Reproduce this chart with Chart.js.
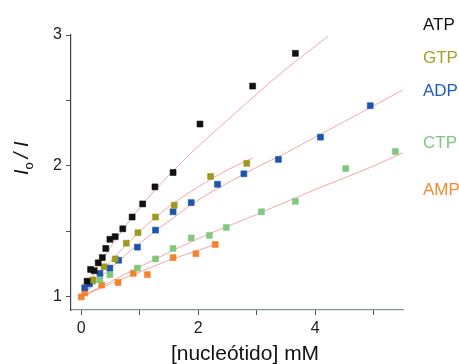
<!DOCTYPE html>
<html>
<head>
<meta charset="utf-8">
<script src="https://cdn.jsdelivr.net/npm/chart.js@4.4.1/dist/chart.umd.min.js"></script>
<style>
  html, body { margin: 0; padding: 0; background: #fff; }
  #wrap { width: 459px; height: 364px; }
</style>
</head>
<body>
<div id="wrap"><canvas id="chart" width="459" height="364"></canvas></div>
<script>
// measured points (I0/I vs [nucleotide] mM)
const atpX = [0.10, 0.16, 0.22, 0.29, 0.36, 0.42, 0.49, 0.58, 0.71, 0.87, 1.05, 1.26, 1.57, 2.03, 2.93, 3.66];
const atpY = [1.12, 1.21, 1.20, 1.26, 1.30, 1.37, 1.44, 1.46, 1.52, 1.61, 1.71, 1.84, 1.95, 2.32, 2.61, 2.86];
const gtpX = [0.20, 0.39, 0.58, 0.77, 0.97, 1.27, 1.59, 2.21, 2.83];
const gtpY = [1.13, 1.23, 1.29, 1.41, 1.49, 1.61, 1.70, 1.92, 2.02];
const adpX = [0.06, 0.14, 0.32, 0.49, 0.64, 0.96, 1.27, 1.57, 1.88, 2.33, 2.78, 3.37, 4.09, 4.94];
const adpY = [1.07, 1.10, 1.18, 1.22, 1.28, 1.38, 1.51, 1.65, 1.72, 1.86, 1.94, 2.05, 2.22, 2.46];
const ctpX = [0.20, 0.32, 0.49, 0.96, 1.27, 1.57, 1.88, 2.19, 2.48, 3.08, 3.66, 4.52, 5.37];
const ctpY = [1.12, 1.13, 1.17, 1.22, 1.29, 1.37, 1.45, 1.47, 1.53, 1.65, 1.73, 1.98, 2.11];
const ampX = [0.00, 0.06, 0.35, 0.63, 0.89, 1.13, 1.57, 1.96, 2.29];
const ampY = [1.00, 1.03, 1.09, 1.11, 1.18, 1.17, 1.30, 1.33, 1.40];

// fitted curves
const atpFitX = [0, 0.25, 0.5, 1.0, 1.5, 2.0, 2.5, 3.0, 3.5, 4.22];
const atpFitY = [1, 1.20, 1.38, 1.68, 1.93, 2.15, 2.35, 2.55, 2.74, 2.99];
const gtpFitX = [0, 0.5, 1.0, 1.5, 2.0, 2.5, 2.93];
const gtpFitY = [1, 1.27, 1.50, 1.69, 1.84, 1.97, 2.06];
const adpFitX = [0, 0.5, 1.0, 1.5, 2.0, 2.5, 3.0, 3.5, 4.0, 4.5, 5.0, 5.49];
const adpFitY = [1, 1.22, 1.41, 1.58, 1.74, 1.87, 1.99, 2.10, 2.22, 2.34, 2.46, 2.58];
const ctpFitX = [0, 1.0, 2.0, 3.0, 4.0, 5.0, 5.49];
const ctpFitY = [1, 1.23, 1.445, 1.63, 1.82, 2.00, 2.10];
const ampFitX = [0, 0.5, 1.0, 1.5, 2.0, 2.35];
const ampFitY = [1, 1.10, 1.19, 1.28, 1.355, 1.41];

const xTicks = [0, 1, 2, 3, 4, 5];
const xTickLabels = ['0', '', '2', '', '4', ''];
const yTicks = [1, 1.5, 2, 2.5, 3];
const yTickLabels = ['1', '', '2', '', '3'];

const names = ['ATP', 'GTP', 'ADP', 'CTP', 'AMP'];
const colors = ['#111111', '#9c9a1e', '#1c55b0', '#80c880', '#f5832c'];
const textColors = ['#111111', '#a3a12a', '#1f5cbc', '#7cc87c', '#f58a30'];

const FONT = '"Liberation Sans", Arial, sans-serif';
const fitColor = 'rgba(238, 105, 110, 0.6)';

const zip = (xs, ys) => xs.map((x, i) => ({ x, y: ys[i] }));

const pointSets = [[atpX, atpY], [gtpX, gtpY], [adpX, adpY], [ctpX, ctpY], [ampX, ampY]];
const fitSets = [[atpFitX, atpFitY], [gtpFitX, gtpFitY], [adpFitX, adpFitY], [ctpFitX, ctpFitY], [ampFitX, ampFitY]];

const datasets = [];
pointSets.forEach(([xs, ys], i) => {
  datasets.push({
    label: names[i],
    data: zip(xs, ys),
    showLine: false,
    pointStyle: 'rect',
    pointRadius: 4.2,
    pointBorderWidth: 0.6,
    pointBackgroundColor: colors[i],
    pointBorderColor: colors[i],
    order: 0,
  });
});
fitSets.forEach(([xs, ys], i) => {
  datasets.push({
    label: names[i] + ' fit',
    data: zip(xs, ys),
    showLine: true,
    pointRadius: 0,
    borderColor: fitColor,
    borderWidth: 1,
    cubicInterpolationMode: 'monotone',
    order: 1,
  });
});

// text labels right of the plot, the y title with its subscript and the x title
const textPlugin = {
  id: 'texts',
  afterDraw(chart) {
    const ctx = chart.ctx;
    ctx.save();
    ctx.textBaseline = 'alphabetic';
    ctx.textAlign = 'left';

    const legendY = [30, 63, 96, 148, 195];
    ctx.font = '17px ' + FONT;
    names.forEach((n, i) => {
      ctx.fillStyle = textColors[i];
      ctx.fillText(n, 423, legendY[i]);
    });

    ctx.fillStyle = '#111';
    ctx.font = '21px ' + FONT;
    ctx.textAlign = 'center';
    ctx.fillText('[nucleótido] mM', 245, 360);

    ctx.translate(28, 175);
    ctx.rotate(-Math.PI / 2);
    ctx.textAlign = 'left';
    let x = 0;
    ctx.font = 'italic 20px ' + FONT;
    ctx.fillText('I', x, 0);
    x += ctx.measureText('I').width;
    ctx.font = '13px ' + FONT;
    ctx.fillText('o', x, 5);
    x += ctx.measureText('o').width + 4;
    ctx.font = 'italic 20px ' + FONT;
    ctx.fillText('/ I', x, 0);
    ctx.restore();
  },
};

new Chart(document.getElementById('chart'), {
  type: 'scatter',
  data: { datasets },
  plugins: [textPlugin],
  options: {
    responsive: false,
    animation: false,
    layout: { padding: { top: 35, right: 56, left: 0, bottom: 0 } },
    plugins: {
      legend: { display: false },
      tooltip: { enabled: false },
    },
    scales: {
      x: {
        type: 'linear',
        min: -0.175,
        max: 5.5,
        afterFit: (scale) => { scale.height = 54; },
        afterBuildTicks: (scale) => { scale.ticks = xTicks.map(v => ({ value: v })); },
        border: { color: '#7d9a84', width: 1.2 },
        grid: { drawOnChartArea: false, drawTicks: true, tickLength: 5, color: '#555' },
        ticks: {
          padding: 4,
          color: '#222',
          font: { family: FONT, size: 16 },
          callback: (v) => xTickLabels[xTicks.indexOf(v)] ?? '',
        },
      },
      y: {
        type: 'linear',
        min: 0.9,
        max: 3,
        afterFit: (scale) => { scale.width = 71; },
        afterBuildTicks: (scale) => { scale.ticks = yTicks.map(v => ({ value: v })); },
        border: { color: '#444', width: 1.2 },
        grid: { drawOnChartArea: false, drawTicks: true, tickLength: 5, color: '#555' },
        ticks: {
          padding: 4,
          color: '#222',
          font: { family: FONT, size: 16 },
          callback: (v) => yTickLabels[yTicks.indexOf(v)] ?? '',
        },
      },
    },
  },
});
</script>
</body>
</html>
